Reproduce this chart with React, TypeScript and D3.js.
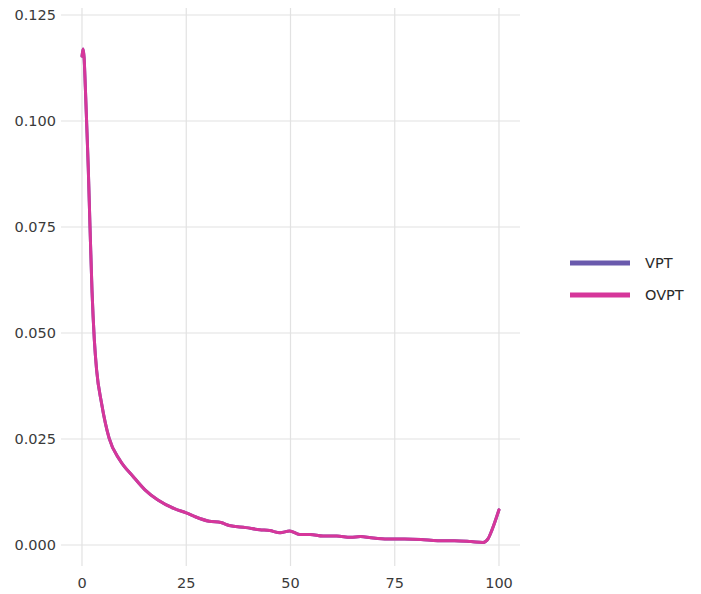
import React from "react";
import * as d3 from "d3";

const xValues = [0, 0.25, 0.5, 0.8, 1.1, 1.5, 1.92, 2.4, 2.95, 3.5, 4.7, 6.5, 9.1, 12.3, 15.1, 18.2, 22.3, 25, 27.3, 30.5, 33.3, 35.3, 39.3, 42.6, 45, 47.5, 49.8, 52.2, 54.7, 57.8, 61.1, 64.4, 66.8, 69.3, 73.3, 77.3, 81.3, 85.3, 89.3, 93.3, 96.2, 97.4, 98.3, 100];
const vptValues = [0.1153, 0.117, 0.115, 0.108, 0.1, 0.089, 0.075, 0.06, 0.0485, 0.0413, 0.0334, 0.0252, 0.02, 0.0161, 0.013, 0.0106, 0.0085, 0.0076, 0.0066, 0.0056, 0.0053, 0.0046, 0.0041, 0.0036, 0.0034, 0.0029, 0.0033, 0.0025, 0.0025, 0.0021, 0.0021, 0.0018, 0.002, 0.0017, 0.0014, 0.0014, 0.0013, 0.001, 0.001, 0.0008, 0.0006, 0.0015, 0.0035, 0.0083];
const ovptValues = vptValues.slice();
const seriesNames = ["VPT", "OVPT"];
const seriesColors = ["#6a5aad", "#d6369a"];
const xTicks = [0, 25, 50, 75, 100];
const yTicks = [0, 0.025, 0.05, 0.075, 0.1, 0.125];

export default function App() {
  const W = 701, H = 594;
  const panel = { left: 61, right: 520, top: 8, bottom: 566 };
  const x = d3.scaleLinear().domain([0, 100]).range([82, 499]);
  const y = d3.scaleLinear().domain([0, 0.125]).range([545, 15]);
  const line = d3
    .line<[number, number]>()
    .x((d) => x(d[0]))
    .y((d) => y(d[1]))
    .curve(d3.curveMonotoneX);
  const series = [vptValues, ovptValues].map((vals) =>
    xValues.map((xv, i) => [xv, vals[i]] as [number, number])
  );
  const font = "'DejaVu Sans', sans-serif";
  return (
    <svg
      width={W}
      height={H}
      style={{ position: "absolute", left: 0, top: 0, background: "#fff" }}
    >
      {yTicks.map((t) => (
        <line key={"gy" + t} x1={panel.left} x2={panel.right} y1={y(t)} y2={y(t)} stroke="#e2e2e2" strokeWidth={1.2} />
      ))}
      {xTicks.map((t) => (
        <line key={"gx" + t} x1={x(t)} x2={x(t)} y1={panel.top} y2={panel.bottom} stroke="#e2e2e2" strokeWidth={1.2} />
      ))}
      {series.map((s, i) => (
        <path key={seriesNames[i]} d={line(s) || ""} fill="none" stroke={seriesColors[i]} strokeWidth={3} strokeLinejoin="round" strokeLinecap="round" />
      ))}
      {yTicks.map((t) => (
        <text key={"ty" + t} x={56} y={y(t)} dy="0.35em" textAnchor="end" fontFamily={font} fontSize={14.5} fill="#3a3a3a">
          {d3.format(".3f")(t)}
        </text>
      ))}
      {xTicks.map((t) => (
        <text key={"tx" + t} x={x(t)} y={583} dy="0.35em" textAnchor="middle" fontFamily={font} fontSize={14.5} fill="#3a3a3a">
          {t}
        </text>
      ))}
      {seriesNames.map((n, i) => (
        <g key={"lg" + n} transform={`translate(0, ${263 + i * 32})`}>
          <line x1={570} x2={630} y1={0} y2={0} stroke={seriesColors[i]} strokeWidth={5} />
          <text x={645} y={0} dy="0.35em" fontFamily={font} fontSize={14.5} fill="#2a2a2a">
            {n}
          </text>
        </g>
      ))}
    </svg>
  );
}
